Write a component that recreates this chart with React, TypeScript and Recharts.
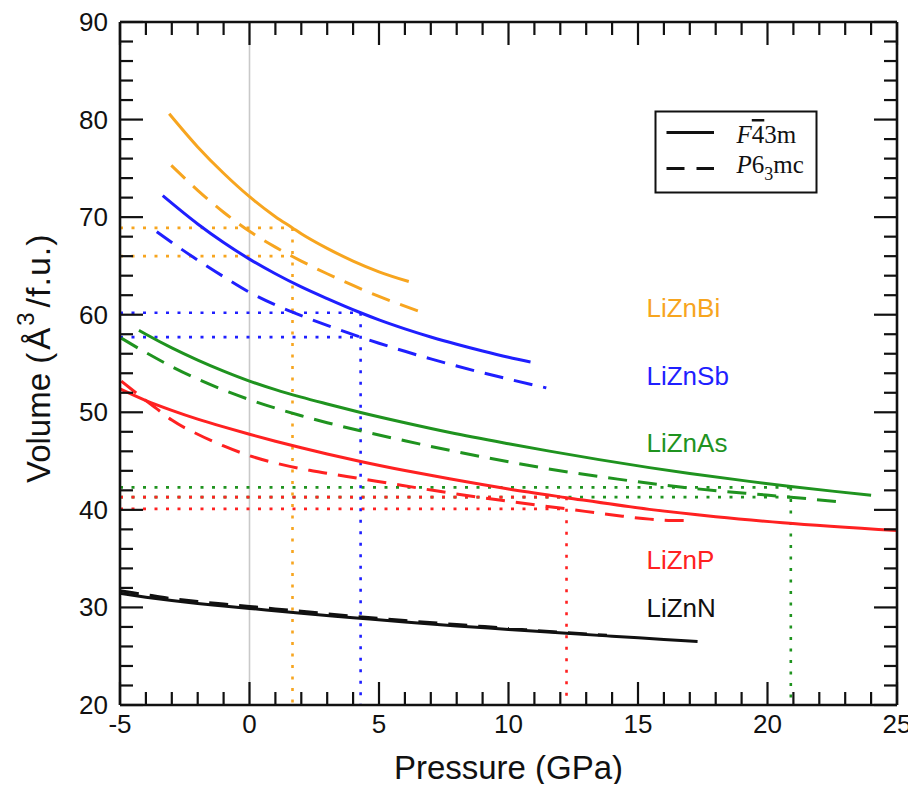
import React from 'react';
import { LineChart, Line, XAxis, YAxis, ReferenceLine } from 'recharts';

// Equation-of-state curves V(P) for LiZnX (X = N, P, As, Sb, Bi), two phases each.
// "cubic" = F-43m, "hex" = P6_3mc. Pressure in GPa, volume in Å^3 per formula unit.
const biCubicP = [-3.1, -2, -1, 0, 1, 1.66, 2, 3, 4, 5, 6.15];
const biCubicV = [80.6, 77.2, 74.5, 72.1, 70.05, 68.9, 68.3, 66.8, 65.5, 64.4, 63.4];
const biHexP = [-3.02, -2, -1, 0, 1, 1.66, 2, 3, 4, 5, 6.5];
const biHexV = [75.3, 72.75, 70.5, 68.55, 66.93, 65.97, 65.5, 64.2, 63.0, 61.88, 60.4];

const sbCubicP = [-3.35, -2, -1, 0, 1, 2, 3, 4.29, 5, 6, 7, 8, 9, 10, 10.85];
const sbCubicV = [72.2, 69.3, 67.4, 65.7, 64.2, 62.85, 61.65, 60.2, 59.47, 58.55, 57.72, 56.97, 56.28, 55.64, 55.15];
const sbHexP = [-3.58, -3, -2, -1, 0, 1, 2, 3, 4.29, 5, 6, 7, 8, 9, 10, 11.46];
const sbHexV = [68.5, 67.4, 65.6, 63.9, 62.3, 61.0, 59.9, 58.9, 57.7, 57.08, 56.25, 55.47, 54.74, 54.05, 53.4, 52.5];

const asCubicP = [-4.27, -4, -3, -2, -1, 0, 1, 2, 3, 4.29, 6, 7.74, 10, 11.58, 13.5, 15.44, 17, 19.3, 20.9, 22.5, 24.0];
const asCubicV = [58.4, 58.0, 56.6, 55.35, 54.22, 53.2, 52.32, 51.55, 50.85, 49.98, 48.93, 47.93, 46.78, 46.02, 45.15, 44.33, 43.73, 42.92, 42.4, 41.92, 41.5];
const asHexP = [-4.95, -4, -3, -2, -1, 0, 1, 2, 3, 4.29, 6, 7.73, 10, 11.39, 14.22, 17.05, 19.95, 20.9, 23.03];
const asHexV = [57.6, 56.12, 54.68, 53.4, 52.28, 51.3, 50.43, 49.65, 48.93, 48.1, 47.08, 46.1, 44.93, 44.27, 43.15, 42.22, 41.52, 41.3, 40.75];

const pCubicP = [-5, -4, -3, -2, -1, 0, 1, 2, 3, 4.29, 6, 7.72, 10, 12.24, 15.44, 18, 20.59, 25];
const pCubicV = [52.4, 51.2, 50.2, 49.3, 48.5, 47.75, 47.03, 46.36, 45.73, 44.96, 44.03, 43.18, 42.14, 41.25, 40.05, 39.3, 38.68, 37.88];
const pHexP = [-4.95, -4, -3.6, -3, -2, -1, 0, 1, 2.32, 3, 4.29, 5.4, 7.08, 9.65, 12.24, 14.4, 15.45, 16.3, 17.1];
const pHexV = [53.2, 51.2, 50.4, 49.2, 47.75, 46.55, 45.55, 44.8, 44.05, 43.75, 43.2, 42.72, 42.0, 41.0, 40.1, 39.35, 39.05, 38.92, 38.9];

const nCubicP = [-5, -4, -3, -2, -1, 0, 2, 4, 6, 8, 10, 12.24, 14, 16, 17.3];
const nCubicV = [31.45, 31.05, 30.7, 30.4, 30.15, 29.9, 29.4, 28.95, 28.5, 28.1, 27.75, 27.35, 27.05, 26.72, 26.5];
const nHexP = [-5, -4, -3, -2, -1, 0, 2, 4, 6, 8, 10, 12, 13.8];
const nHexV = [31.7, 31.3, 30.9, 30.6, 30.35, 30.1, 29.6, 29.1, 28.65, 28.25, 27.85, 27.45, 27.15];

// Transition pressures and the volumes of both phases there
const biTransitionP = 1.66;
const biTransitionV = [68.9, 66.0];
const sbTransitionP = 4.29;
const sbTransitionV = [60.2, 57.7];
const asTransitionP = 20.9;
const asTransitionV = [42.3, 41.3];
const pTransitionP = 12.24;
const pTransitionV = [41.3, 40.1];

// Axis ticks
const xTicks = [-5, -4, -3, -2, -1, 0, 1, 2, 3, 4, 5, 6, 7, 8, 9, 10, 11, 12, 13, 14, 15, 16, 17, 18, 19, 20, 21, 22, 23, 24, 25];
const xMajorTicks = [-5, 0, 5, 10, 15, 20, 25];
const yTicks = [20, 22, 24, 26, 28, 30, 32, 34, 36, 38, 40, 42, 44, 46, 48, 50, 52, 54, 56, 58, 60, 62, 64, 66, 68, 70, 72, 74, 76, 78, 80, 82, 84, 86, 88, 90];
const yMajorTicks = [20, 30, 40, 50, 60, 70, 80, 90];

const compoundNames = ['LiZnBi', 'LiZnSb', 'LiZnAs', 'LiZnP', 'LiZnN'];

const ORANGE = '#f7a51f';
const BLUE = '#1f1fff';
const GREEN = '#1f931f';
const RED = '#ff2121';
const BLACK = '#111111';
const compoundColors = [ORANGE, BLUE, GREEN, RED, BLACK];

const toPoints = (ps: number[], vs: number[]) => ps.map((p, i) => ({ p, v: vs[i] }));

const W = 908;
const H = 776;
const MAJOR_LEN = 23;
const MINOR_LEN = 13;
const SANS = '"Liberation Sans", Arial, Helvetica, sans-serif';
const SERIF = '"Liberation Serif", "Times New Roman", serif';
const TICK_FONT = 26;

const BottomTick = (props: any) => {
  const { x, y, payload } = props;
  const major = xMajorTicks.includes(payload.value);
  return (
    <g>
      <line x1={x} x2={x} y1={y} y2={y - (major ? MAJOR_LEN : MINOR_LEN)} stroke={BLACK} strokeWidth={2.2} />
      {major && (
        <text x={x} y={y + 28} textAnchor="middle" fontFamily={SANS} fontSize={TICK_FONT} fill={BLACK}>
          {String(payload.value)}
        </text>
      )}
    </g>
  );
};

const TopTick = (props: any) => {
  const { x, y, payload } = props;
  const major = xMajorTicks.includes(payload.value);
  return <line x1={x} x2={x} y1={y} y2={y + (major ? MAJOR_LEN : MINOR_LEN)} stroke={BLACK} strokeWidth={2.2} />;
};

const LeftTick = (props: any) => {
  const { x, y, payload } = props;
  const major = yMajorTicks.includes(payload.value);
  return (
    <g>
      <line x1={x} x2={x + (major ? MAJOR_LEN : MINOR_LEN)} y1={y} y2={y} stroke={BLACK} strokeWidth={2.2} />
      {major && (
        <text x={x - 12} y={y + 9} textAnchor="end" fontFamily={SANS} fontSize={TICK_FONT} fill={BLACK}>
          {String(payload.value)}
        </text>
      )}
    </g>
  );
};

const RightTick = (props: any) => {
  const { x, y, payload } = props;
  const major = yMajorTicks.includes(payload.value);
  return <line x1={x} x2={x - (major ? MAJOR_LEN : MINOR_LEN)} y1={y} y2={y} stroke={BLACK} strokeWidth={2.2} />;
};

const DOT = '3 8.5';

const guide = (key: string, x1: number, y1: number, x2: number, y2: number, color: string) => (
  <ReferenceLine
    key={key}
    segment={[{ x: x1, y: y1 }, { x: x2, y: y2 }]}
    stroke={color}
    strokeWidth={2.6}
    strokeDasharray={DOT}
    ifOverflow="visible"
  />
);

const curve = (key: string, ps: number[], vs: number[], color: string, dashed: boolean) => (
  <Line
    key={key}
    data={toPoints(ps, vs)}
    dataKey="v"
    type="monotone"
    stroke={color}
    strokeWidth={3}
    strokeDasharray={dashed ? '19 11' : undefined}
    dot={false}
    activeDot={false}
    isAnimationActive={false}
  />
);

const labelBaselines = [309, 377, 444, 561, 609];

export default function App() {
  return (
    <div style={{ position: 'relative', width: W, height: H }}>
      <LineChart width={W} height={H} margin={{ top: 13, right: 18, bottom: 0, left: 0 }}>
        <XAxis
          xAxisId={0}
          dataKey="p"
          type="number"
          domain={[-5, 25]}
          ticks={xTicks}
          interval={0}
          height={79}
          tickSize={0}
          tickMargin={0}
          tickLine={false}
          tick={<BottomTick />}
          axisLine={{ stroke: BLACK, strokeWidth: 2.6 }}
          allowDataOverflow
        />
        <XAxis
          xAxisId="top"
          orientation="top"
          dataKey="p"
          type="number"
          domain={[-5, 25]}
          ticks={xTicks}
          interval={0}
          height={1}
          tickSize={0}
          tickMargin={0}
          tickLine={false}
          tick={<TopTick />}
          axisLine={{ stroke: BLACK, strokeWidth: 2.6 }}
          allowDataOverflow
        />
        <YAxis
          yAxisId={0}
          type="number"
          domain={[20, 90]}
          ticks={yTicks}
          interval={0}
          width={112}
          tickSize={0}
          tickMargin={0}
          tickLine={false}
          tick={<LeftTick />}
          axisLine={{ stroke: BLACK, strokeWidth: 2.6 }}
          allowDataOverflow
        />
        <YAxis
          yAxisId="right"
          orientation="right"
          type="number"
          domain={[20, 90]}
          ticks={yTicks}
          interval={0}
          width={1}
          tickSize={0}
          tickMargin={0}
          tickLine={false}
          tick={<RightTick />}
          axisLine={{ stroke: BLACK, strokeWidth: 2.6 }}
          allowDataOverflow
        />

        <ReferenceLine x={0} stroke="#c9c9c9" strokeWidth={1.6} />

        {/* Transition guides: volumes of both phases and the transition pressure */}
        {guide('as-h1', -5, asTransitionV[0], asTransitionP, asTransitionV[0], GREEN)}
        {guide('as-h2', -5, asTransitionV[1], asTransitionP, asTransitionV[1], GREEN)}
        {guide('as-v', asTransitionP, asTransitionV[0], asTransitionP, 20, GREEN)}
        {guide('p-h1', -5, pTransitionV[0], pTransitionP, pTransitionV[0], RED)}
        {guide('p-h2', -5, pTransitionV[1], pTransitionP, pTransitionV[1], RED)}
        {guide('p-v', pTransitionP, pTransitionV[0], pTransitionP, 20, RED)}
        {guide('sb-h1', -5, sbTransitionV[0], sbTransitionP, sbTransitionV[0], BLUE)}
        {guide('sb-h2', -5, sbTransitionV[1], sbTransitionP, sbTransitionV[1], BLUE)}
        {guide('sb-v', sbTransitionP, sbTransitionV[0], sbTransitionP, 20, BLUE)}
        {guide('bi-h1', -5, biTransitionV[0], biTransitionP, biTransitionV[0], ORANGE)}
        {guide('bi-h2', -5, biTransitionV[1], biTransitionP, biTransitionV[1], ORANGE)}
        {guide('bi-v', biTransitionP, biTransitionV[0], biTransitionP, 20, ORANGE)}

        {curve('n-hex', nHexP, nHexV, BLACK, true)}
        {curve('n-cub', nCubicP, nCubicV, BLACK, false)}
        {curve('p-hex', pHexP, pHexV, RED, true)}
        {curve('p-cub', pCubicP, pCubicV, RED, false)}
        {curve('as-hex', asHexP, asHexV, GREEN, true)}
        {curve('as-cub', asCubicP, asCubicV, GREEN, false)}
        {curve('sb-hex', sbHexP, sbHexV, BLUE, true)}
        {curve('sb-cub', sbCubicP, sbCubicV, BLUE, false)}
        {curve('bi-hex', biHexP, biHexV, ORANGE, true)}
        {curve('bi-cub', biCubicP, biCubicV, ORANGE, false)}
      </LineChart>

      <svg
        width={W}
        height={H}
        style={{ position: 'absolute', left: 0, top: 0, pointerEvents: 'none', overflow: 'visible' }}
      >
        {/* axis titles */}
        <text x={500.5} y={771} textAnchor="middle" fontFamily={SANS} fontSize={33} fill={BLACK}>
          Pressure (GPa)
        </text>
        <text transform="translate(42, 475) rotate(-90)" fontFamily={SANS} fontSize={33} fill={BLACK}>
          <tspan>Volume (</tspan>
          <tspan dx={3}>Å</tspan>
          <tspan dx={2} dy={-16} fontSize={24}>3</tspan>
          <tspan dx={5} dy={16} fontSize={34} letterSpacing={1}>/f.u.)</tspan>
        </text>

        {/* compound names */}
        {compoundNames.map((name, i) => (
          <text key={name} x={638.5} y={labelBaselines[i]} fontFamily={SANS} fontSize={26} fill={compoundColors[i]}>
            {name}
          </text>
        ))}

        {/* phase legend */}
        <rect x={647.5} y={103.5} width={161} height={81} fill="#ffffff" stroke={BLACK} strokeWidth={2} />
        <line x1={658.5} x2={706} y1={124.5} y2={124.5} stroke={BLACK} strokeWidth={3} />
        <line x1={658.5} x2={706} y1={160.5} y2={160.5} stroke={BLACK} strokeWidth={3} strokeDasharray="18 12" />
        <text x={728.5} y={135} fontFamily={SERIF} fontSize={25} fill={BLACK}>
          <tspan fontStyle="italic">F</tspan>
          <tspan style={{ textDecoration: 'overline' }}>4</tspan>
          <tspan>3m</tspan>
        </text>
        <text x={728.5} y={164.5} fontFamily={SERIF} fontSize={25} fill={BLACK}>
          <tspan fontStyle="italic">P</tspan>
          <tspan>6</tspan>
          <tspan dy={7} fontSize={18}>3</tspan>
          <tspan dy={-7}>mc</tspan>
        </text>
      </svg>
    </div>
  );
}
